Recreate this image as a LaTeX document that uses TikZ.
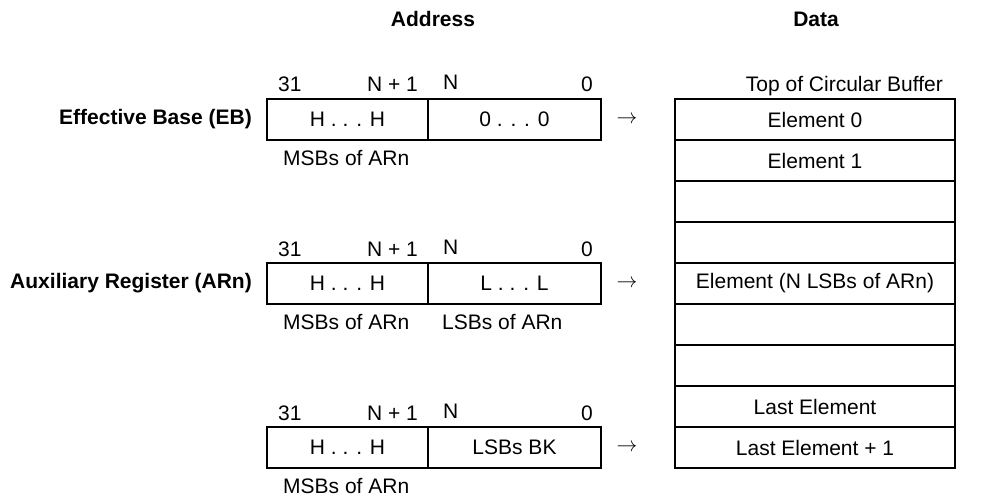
\documentclass[tikz,border=0pt]{standalone}
\usepackage{fontspec}
\setmainfont{Liberation Sans}
\usetikzlibrary{positioning}
\begin{document}
\begin{tikzpicture}[x=1pt, y=-1pt, line join=miter,
  font=\fontsize{21}{24}\selectfont,
  field/.style={draw, line width=2.8pt, minimum height=41pt, inner sep=0pt, outer sep=0pt, anchor=north west},
  cell/.style={draw, line width=2.8pt, minimum width=280pt, minimum height=41pt, inner sep=0pt, outer sep=0pt, anchor=north west},
  bitno/.style={inner sep=0pt},
  note/.style={inner sep=0pt, anchor=base west},
  regname/.style={anchor=east, inner sep=0pt, font=\fontsize{21}{24}\selectfont\bfseries},
  head/.style={font=\fontsize{21}{24}\selectfont\bfseries}]
  \useasboundingbox (0,0) rectangle (1008,497);

  % Column headings
  \node[head] (addrhead) at (433,19) {Address};
  \node[head] (datahead) at (816,19) {Data};

  % Circular buffer
  \foreach \txt [count=\i] in {Element 0, Element 1, {}, {}, {Element (N LSBs of ARn)}, {}, {}, Last Element, Last Element + 1}
    \node[cell] (row\i) at (675,{99+41*(\i-1)}) {\txt};
  \node[inner sep=0pt, anchor=base east] (tophead) at ([xshift=-12pt, yshift=7pt]row1.north east) {Top of Circular Buffer};

  % Effective base register
  \node[field, minimum width=161pt] (ebhi) at (267,99) {H . . . H};
  \node[field, minimum width=173pt] (eblo) at (ebhi.north east) {0 . . . 0};
  \node[regname] (ebname) at ([xshift=-15pt]ebhi.west) {Effective Base (EB)};
  \node[bitno, anchor=base west] (eb31) at ([xshift=11pt, yshift=7pt]ebhi.north west) {31};
  \node[bitno, anchor=base east] (ebn1) at ([xshift=-10pt, yshift=7pt]ebhi.north east) {N + 1};
  \node[bitno, anchor=base west] (ebn) at ([xshift=15pt, yshift=9pt]eblo.north west) {N};
  \node[bitno, anchor=base east] (eb0) at ([xshift=-8pt, yshift=7pt]eblo.north east) {0};
  \node[note] (ebmsb) at ([xshift=16pt, yshift=-25pt]ebhi.south west) {MSBs of ARn};
  \node (ebptr) at ([xshift=26pt]eblo.east) {$\rightarrow$};

  % Auxiliary register
  \node[field, minimum width=161pt] (arhi) at (267,263) {H . . . H};
  \node[field, minimum width=173pt] (arlo) at (arhi.north east) {L . . . L};
  \node[regname] (arname) at ([xshift=-15pt]arhi.west) {Auxiliary Register (ARn)};
  \node[bitno, anchor=base west] (ar31) at ([xshift=11pt, yshift=7pt]arhi.north west) {31};
  \node[bitno, anchor=base east] (arn1) at ([xshift=-10pt, yshift=7pt]arhi.north east) {N + 1};
  \node[bitno, anchor=base west] (arn) at ([xshift=15pt, yshift=9pt]arlo.north west) {N};
  \node[bitno, anchor=base east] (ar0) at ([xshift=-8pt, yshift=7pt]arlo.north east) {0};
  \node[note] (armsb) at ([xshift=16pt, yshift=-25pt]arhi.south west) {MSBs of ARn};
  \node[note] (arlsb) at ([xshift=14pt, yshift=-25pt]arlo.south west) {LSBs of ARn};
  \node (arptr) at ([xshift=26pt]arlo.east) {$\rightarrow$};

  % Block size register
  \node[field, minimum width=161pt] (bkhi) at (267,427) {H . . . H};
  \node[field, minimum width=173pt] (bklo) at (bkhi.north east) {LSBs BK};
  \node[bitno, anchor=base west] (bk31) at ([xshift=11pt, yshift=7pt]bkhi.north west) {31};
  \node[bitno, anchor=base east] (bkn1) at ([xshift=-10pt, yshift=7pt]bkhi.north east) {N + 1};
  \node[bitno, anchor=base west] (bkn) at ([xshift=15pt, yshift=9pt]bklo.north west) {N};
  \node[bitno, anchor=base east] (bk0) at ([xshift=-8pt, yshift=7pt]bklo.north east) {0};
  \node[note] (bkmsb) at ([xshift=16pt, yshift=-25pt]bkhi.south west) {MSBs of ARn};
  \node (bkptr) at ([xshift=26pt]bklo.east) {$\rightarrow$};
\end{tikzpicture}
\end{document}
